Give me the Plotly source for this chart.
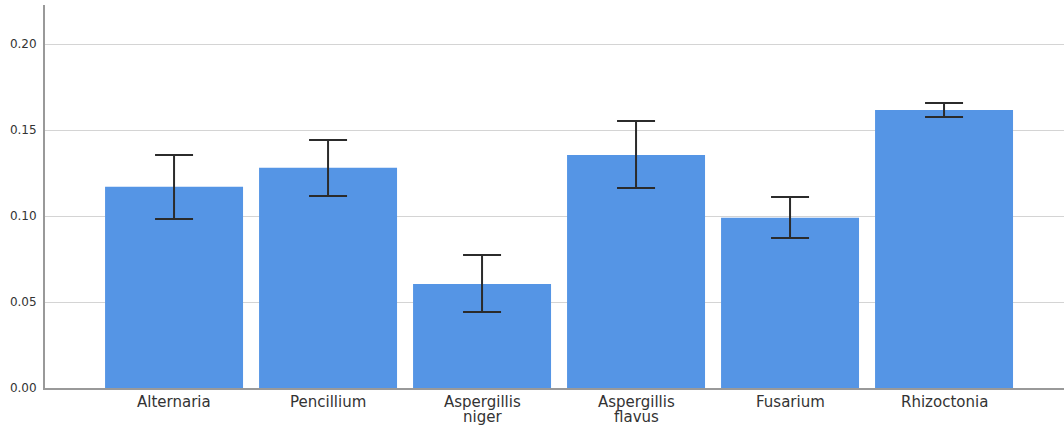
import plotly.graph_objects as go

categories = ["Alternaria", "Pencillium", "Aspergillis<br>niger", "Aspergillis<br>flavus", "Fusarium", "Rhizoctonia"]
label_line1 = ["Alternaria", "Pencillium", "Aspergillis", "Aspergillis", "Fusarium", "Rhizoctonia"]
label_line2 = ["", "", "niger", "flavus", "", ""]
means = [0.117, 0.128, 0.0605, 0.1355, 0.099, 0.1616]
ci_upper = [0.1355, 0.1442, 0.0773, 0.1552, 0.111, 0.1657]
ci_lower = [0.0983, 0.1116, 0.0442, 0.1163, 0.0872, 0.1576]
y_ticks = [0.0, 0.05, 0.10, 0.15, 0.20]

err_plus = [u - m for u, m in zip(ci_upper, means)]
err_minus = [m - l for l, m in zip(ci_lower, means)]

fig = go.Figure()
fig.add_trace(go.Bar(
    x=categories, y=means,
    marker=dict(color="#5595e5", line=dict(width=0)),
    error_y=dict(type="data", array=err_plus, arrayminus=err_minus,
                 color="#2b2b2b", thickness=2, width=19, visible=True),
))

font_fam = "DejaVu Sans, Liberation Sans, Arial"
annotations = []
for c, l1, l2 in zip(categories, label_line1, label_line2):
    annotations.append(dict(x=c, y=-0.036, xref="x", yref="paper", text=l1,
                            showarrow=False, yanchor="middle", xanchor="center",
                            font=dict(family=font_fam, size=15, color="#333333")))
    if l2:
        annotations.append(dict(x=c, y=-0.0765, xref="x", yref="paper", text=l2,
                                showarrow=False, yanchor="middle", xanchor="center",
                                font=dict(family=font_fam, size=15, color="#333333")))

fig.update_layout(
    width=1064, height=428,
    margin=dict(l=45, r=0, t=5, b=40),
    paper_bgcolor="white", plot_bgcolor="white",
    showlegend=False,
    bargap=0.104,
    annotations=annotations,
    xaxis=dict(range=[-0.838, 5.779], showticklabels=False, showgrid=False,
               showline=True, linecolor="#999999", linewidth=1.5, ticks="", zeroline=False),
    yaxis=dict(range=[0, 0.2227], tickvals=y_ticks, tickformat=".2f",
               showgrid=True, gridcolor="#d4d4d4", gridwidth=1,
               showline=True, linecolor="#999999", linewidth=2, zeroline=False,
               ticks="", ticklabelstandoff=4,
               tickfont=dict(family=font_fam, size=12, color="#333333")),
)

fig.write_html("out.html", config={"displayModeBar": False},
               post_script="document.body.style.margin='0px';")
